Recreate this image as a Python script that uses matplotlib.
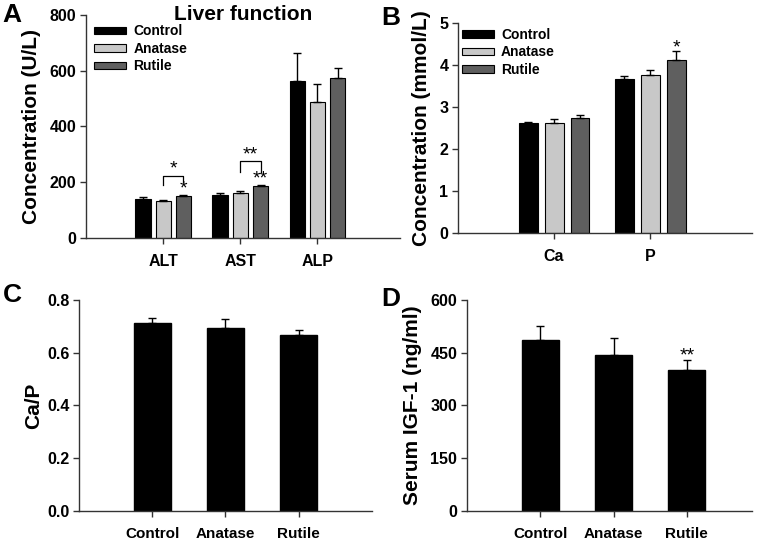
import matplotlib
matplotlib.use("Agg")
import matplotlib.pyplot as plt
from matplotlib.patches import Patch
import numpy as np

plt.rcParams['font.family'] = ['Liberation Sans', 'DejaVu Sans']
plt.rcParams['font.weight'] = 'bold'

groups = ["Control", "Anatase", "Rutile"]
colors = ["#000000", "#c8c8c8", "#5f5f5f"]

# Panel A: liver function
liver_cats = ["ALT", "AST", "ALP"]
liver_mean = {"Control": [138, 154, 564], "Anatase": [131, 162, 486], "Rutile": [151, 186, 574]}
liver_err = {"Control": [7, 8, 101], "Anatase": [4, 6, 67], "Rutile": [3, 3, 37]}

# Panel B: Ca and P
min_cats = ["Ca", "P"]
min_mean = {"Control": [2.60, 3.67], "Anatase": [2.61, 3.76], "Rutile": [2.73, 4.11]}
min_err = {"Control": [0.04, 0.06], "Anatase": [0.10, 0.11], "Rutile": [0.07, 0.22]}

# Panel C: Ca/P
cap_mean = [0.711, 0.695, 0.666]
cap_err = [0.022, 0.032, 0.019]

# Panel D: IGF-1
igf_mean = [487, 444, 402]
igf_err = [39, 49, 26]

W, H = 759, 542
fig = plt.figure(figsize=(W / 100, H / 100), dpi=100)

def ax_px(left, right, top, bottom):
    return fig.add_axes([left / W, 1 - bottom / H, (right - left) / W, (bottom - top) / H])

def style(ax, xsize):
    for s in ["top", "right"]:
        ax.spines[s].set_visible(False)
    for s in ["left", "bottom"]:
        ax.spines[s].set_color("#333333")
        ax.spines[s].set_linewidth(1.0)
    ax.tick_params(axis="both", direction="out", length=4, width=1, color="#333333", pad=3)
    ax.tick_params(axis="y", labelsize=11.5)
    ax.tick_params(axis="x", labelsize=xsize, pad=8)
    for lab in ax.get_xticklabels() + ax.get_yticklabels():
        lab.set_fontweight("bold")

ekw = dict(ecolor="black", elinewidth=1, capsize=3, capthick=1)
star_kw = dict(ha="center", va="center", fontsize=14, fontweight="normal")
leg_kw = dict(loc="upper left", frameon=False, handlelength=2.3, handleheight=0.45,
              labelspacing=0.25, handletextpad=0.5, borderaxespad=0.2,
              prop={"weight": "bold", "size": 10})

# ---------- A ----------
axA = ax_px(86, 400, 15, 237.7)
x = np.arange(1, len(liver_cats) + 1)
pitch, bw = 0.262, 0.197
for i, g in enumerate(groups):
    pos = x + (i - 1) * pitch
    m = liver_mean[g]; e = liver_err[g]
    axA.bar(pos, m, bw, color=colors[i], edgecolor="black", linewidth=0.8,
            yerr=[np.zeros(len(e)), e], error_kw=ekw, zorder=2)
axA.set_xlim(0, 4.07)
axA.set_ylim(0, 800)
axA.set_yticks([0, 200, 400, 600, 800])
axA.set_xticks(x)
axA.set_xticklabels(liver_cats)
axA.set_ylabel("Concentration (U/L)", fontsize=15, fontweight="bold", labelpad=6)
style(axA, 11.5)
axA.text(0.5, 1.0, "Liver function", transform=axA.transAxes, ha="center", va="center",
         fontsize=15, fontweight="bold")
handles = [Patch(facecolor=c, edgecolor="black", linewidth=0.8, label=g) for c, g in zip(colors, groups)]
axA.legend(handles=handles, bbox_to_anchor=(0.0, 0.995), **leg_kw)

def bracket(ax, x1, x2, y, yl, yr, txt, ty):
    ax.plot([x1, x1, x2, x2], [yl, y, y, yr], color="black", lw=0.9, zorder=3)
    ax.text((x1 + x2) / 2, ty, txt, **star_kw)

bracket(axA, 1, 1 + pitch, 223, 189, 201, "*", 247)
axA.text(1 + pitch, 174, "*", **star_kw)
bracket(axA, 2, 2 + pitch, 274, 237, 237, "**", 297)
axA.text(2 + pitch, 211, "**", **star_kw)

# ---------- B ----------
axB = ax_px(458, 752, 22.7, 232.7)
xb = np.arange(1, len(min_cats) + 1)
pitchB, bwB = 0.27, 0.197
for i, g in enumerate(groups):
    pos = xb + (i - 1) * pitchB
    m = min_mean[g]; e = min_err[g]
    axB.bar(pos, m, bwB, color=colors[i], edgecolor="black", linewidth=0.8,
            yerr=[np.zeros(len(e)), e], error_kw=ekw, zorder=2)
axB.set_xlim(0, 3.06)
axB.set_ylim(0, 5)
axB.set_yticks([0, 1, 2, 3, 4, 5])
axB.set_xticks(xb)
axB.set_xticklabels(min_cats)
axB.set_ylabel("Concentration (mmol/L)", fontsize=15, fontweight="bold", labelpad=6)
style(axB, 11.5)
axB.legend(handles=handles, bbox_to_anchor=(-0.014, 1.015), **leg_kw)
axB.text(2 + pitchB, 4.40, "*", **star_kw)

# ---------- C ----------
axC = ax_px(79, 372, 300, 510.7)
xc = np.arange(1, 4)
axC.bar(xc, cap_mean, 0.51, color="black", edgecolor="black",
        yerr=[np.zeros(3), cap_err], error_kw=ekw, zorder=2)
axC.set_xlim(0, 4.0)
axC.set_ylim(0, 0.8)
axC.set_yticks([0.0, 0.2, 0.4, 0.6, 0.8])
axC.set_yticklabels(["0.0", "0.2", "0.4", "0.6", "0.8"])
axC.set_xticks(xc)
axC.set_xticklabels(groups)
axC.set_ylabel("Ca/P", fontsize=15, fontweight="bold", labelpad=3)
style(axC, 11)

# ---------- D ----------
axD = ax_px(467, 752, 300, 510.7)
axD.bar(xc, igf_mean, 0.51, color="black", edgecolor="black",
        yerr=[np.zeros(3), igf_err], error_kw=ekw, zorder=2)
axD.set_xlim(0, 3.89)
axD.set_ylim(0, 600)
axD.set_yticks([0, 150, 300, 450, 600])
axD.set_xticks(xc)
axD.set_xticklabels(groups)
axD.set_ylabel("Serum IGF-1 (ng/ml)", fontsize=15, fontweight="bold", labelpad=6)
style(axD, 11)
axD.text(3, 440, "**", **star_kw)

# panel letters
for lab, px, py in [("A", 2, 3), ("B", 381, 6), ("C", 3, 283), ("D", 381, 287)]:
    fig.text(px / W, 1 - py / H, lab, ha="left", va="top", fontsize=19, fontweight="bold")

fig.savefig("out.png", dpi=100)
